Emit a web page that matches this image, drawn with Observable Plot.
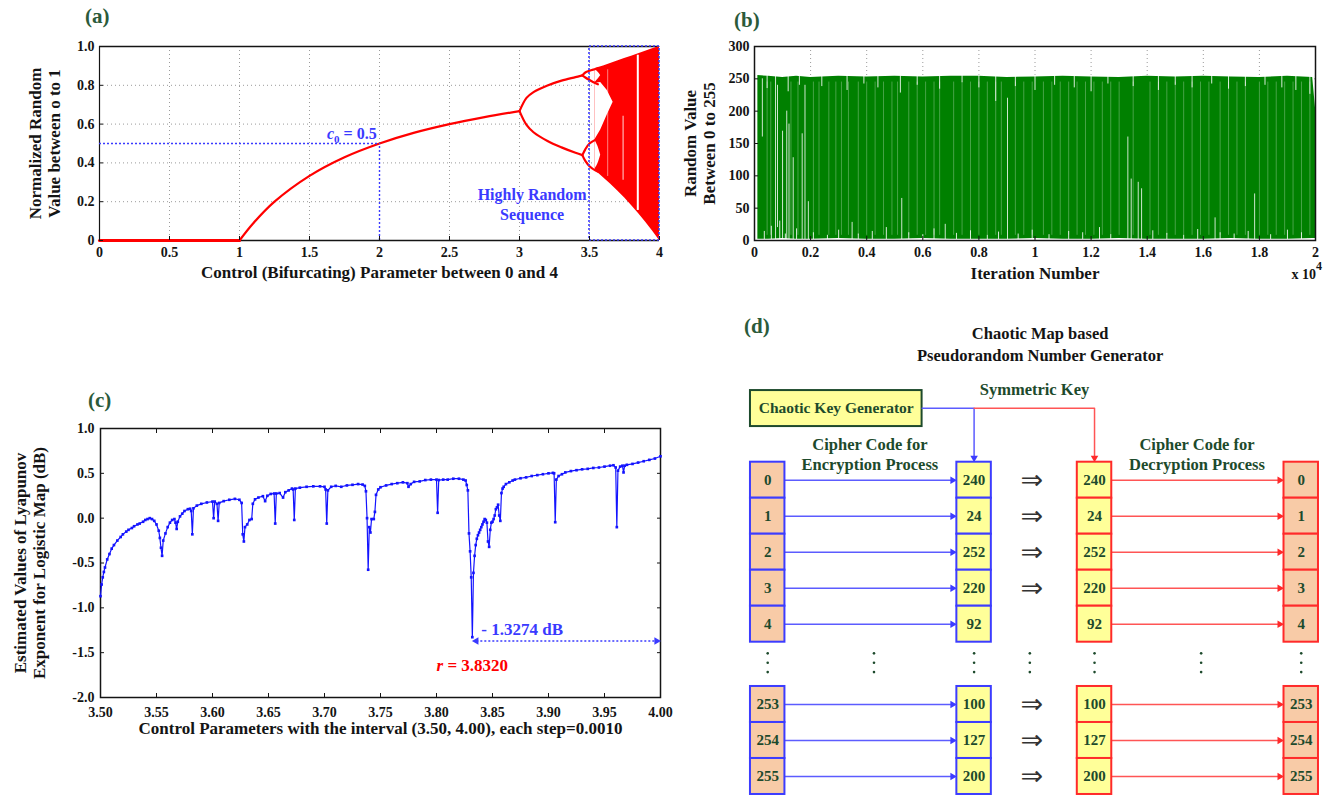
<!DOCTYPE html>
<html>
<head>
<meta charset="utf-8">
<script src="https://cdn.jsdelivr.net/npm/d3@7"></script>
<script src="https://cdn.jsdelivr.net/npm/@observablehq/plot@0.6"></script>
<style>
  html, body { margin: 0; padding: 0; background: #fff; }
  #fig { position: relative; width: 1330px; height: 796px; overflow: hidden; }
  .panel { position: absolute; }
  .tag { position: absolute; font: bold 21px "Liberation Serif", serif; color: #2b5a3a; line-height: 24px; }
</style>
</head>
<body>
<div id="fig"></div>
<script>
// ================= DATA =================
// (a) bifurcation diagram of the logistic map
const aTicksX = [0, 0.5, 1, 1.5, 2, 2.5, 3, 3.5, 4];
const aTicksY = [0, 0.2, 0.4, 0.6, 0.8, 1];
const extinctR = [0, 1];
const extinctX = [0, 0];
const fixedR = [1, 1.1, 1.25, 1.5, 1.75, 2, 2.25, 2.5, 2.75, 3];
const fixedX = [0, 0.09, 0.2, 0.333, 0.429, 0.5, 0.556, 0.6, 0.636, 0.667];
const period2R = [3, 3.05, 3.1, 3.2, 3.3, 3.4, 3.449];
const period2Hi = [0.667, 0.735, 0.765, 0.799, 0.824, 0.842, 0.851];
const period2Lo = [0.667, 0.596, 0.558, 0.513, 0.480, 0.452, 0.44];
const period4R = [3.449, 3.47, 3.5, 3.544, 3.56];
const period4HiHi = [0.851, 0.866, 0.875, 0.884, 0.888];
const period4HiLo = [0.851, 0.84, 0.827, 0.81, 0.805];
const period4LoHi = [0.44, 0.47, 0.50, 0.52, 0.525];
const period4LoLo = [0.44, 0.41, 0.383, 0.36, 0.355];
const chaosR = [3.54, 3.57, 3.6, 3.65, 3.7, 3.75, 3.8, 3.85, 3.9, 3.95, 4];
const chaosHi = [0.886, 0.893, 0.9, 0.913, 0.925, 0.938, 0.95, 0.963, 0.975, 0.988, 1];
const chaosLo = [0.362, 0.343, 0.324, 0.291, 0.257, 0.22, 0.181, 0.139, 0.095, 0.049, 0];
const gapR = [3.54, 3.58, 3.626, 3.669];
const gapLo = [0.52, 0.57, 0.645, 0.713];
const gapHi = [0.81, 0.815, 0.775, 0.713];
const loopR = [3.54, 3.56, 3.58];
const loopUpLo = [0.815, 0.83, 0.85];
const loopUpHi = [0.88, 0.87, 0.85];
const loopLowLo = [0.37, 0.39, 0.44];
const loopLowHi = [0.515, 0.49, 0.44];
const windowR = [3.63, 3.74, 3.845];
const windowLo = [0.33, 0.31, 0.155];
const windowHi = [0.88, 0.64, 0.955];
const windowWidth = [1, 1.2, 2];
const windowAlpha = [0.5, 0.7, 1];
const c0 = 0.5, rAtC0 = 2;
const randomBand = [3.5, 4];

// (b) pseudo-random sequence 0..255 (x in units of 10^4 iterations)
const bTicksX = [0, 0.2, 0.4, 0.6, 0.8, 1, 1.2, 1.4, 1.6, 1.8, 2];
const bTicksY = [0, 50, 100, 150, 200, 250, 300];
const bEnvX = [0.012, 0.05, 0.1, 0.15, 0.2, 0.3, 0.4, 0.5, 0.6, 0.7, 0.8, 0.9, 1.0, 1.1, 1.2, 1.3, 1.4, 1.5, 1.6, 1.7, 1.8, 1.9, 1.99, 2.0];
const bEnvTop = [255, 254, 252, 254, 252, 254, 253, 254, 253, 254, 254, 252, 253, 254, 253, 252, 254, 253, 254, 253, 252, 254, 252, 205];
const bEnvBottom = [2, 2, 3, 2, 2, 3, 2, 2, 3, 2, 2, 2, 3, 2, 2, 3, 2, 2, 2, 3, 2, 2, 3, 3];
const bStreakX = [0.028, 0.075, 0.082, 0.1, 0.115, 0.123, 0.138, 0.17, 0.18, 0.192, 0.348, 0.525, 0.68, 0.902, 1.331, 1.343, 1.368, 1.38, 1.642, 1.783];
const bStreakLo = [160, 0, 20, 0, 0, 0, 0, 0, 0, 0, 0, 0, 0, 0, 0, 0, 0, 0, 0, 0];
const bStreakHi = [250, 254, 240, 169, 200, 180, 128, 165, 240, 60, 28, 65, 25, 220, 160, 95, 90, 80, 35, 72];
const bFaintX = [0.045, 0.058, 0.13, 0.155, 0.21, 0.23, 0.265, 0.29, 0.31, 0.335, 0.37, 0.4, 0.43, 0.46, 0.49, 0.51, 0.55, 0.58, 0.61, 0.64, 0.66, 0.71, 0.74, 0.77, 0.8, 0.83, 0.86, 0.88, 0.93, 0.96, 0.99, 1.03, 1.06, 1.09, 1.12, 1.15, 1.18, 1.21, 1.24, 1.27, 1.3, 1.35, 1.41, 1.44, 1.47, 1.5, 1.53, 1.56, 1.59, 1.62, 1.66, 1.69, 1.72, 1.75, 1.8, 1.83, 1.86, 1.89, 1.92, 1.95, 1.98];
const bLowNotchX = [0.035, 0.06, 0.09, 0.11, 0.15, 0.21, 0.26, 0.3, 0.37, 0.42, 0.47, 0.55, 0.6, 0.64, 0.72, 0.77, 0.83, 0.87, 0.94, 0.99, 1.05, 1.12, 1.17, 1.23, 1.27, 1.42, 1.47, 1.53, 1.58, 1.66, 1.71, 1.76, 1.84, 1.9, 1.95];
const bLowNotchH = [14, 22, 30, 10, 18, 12, 8, 16, 10, 14, 20, 12, 9, 18, 11, 15, 8, 13, 10, 16, 9, 14, 12, 20, 9, 15, 11, 8, 17, 12, 10, 14, 9, 16, 12];
const bHighNotchX = [0.045, 0.12, 0.16, 0.24, 0.33, 0.39, 0.44, 0.52, 0.58, 0.66, 0.74, 0.8, 0.86, 0.93, 1.0, 1.07, 1.14, 1.2, 1.26, 1.35, 1.44, 1.5, 1.56, 1.63, 1.69, 1.75, 1.82, 1.88, 1.93, 1.98];
const bHighNotchL = [235, 230, 240, 238, 232, 242, 236, 228, 240, 234, 244, 236, 215, 238, 232, 240, 236, 230, 242, 238, 232, 240, 236, 242, 234, 238, 240, 236, 232, 226];

// (c) Lyapunov exponent, r in [3.50, 4.00]: [r, value]
const cTicksX = [3.50, 3.55, 3.60, 3.65, 3.70, 3.75, 3.80, 3.85, 3.90, 3.95, 4.00];
const cTicksY = [-2, -1.5, -1, -0.5, 0, 0.5, 1];
const lyapunov = [
 [3.500,-0.87],[3.501,-0.74],[3.502,-0.66],[3.503,-0.60],[3.504,-0.55],[3.506,-0.46],[3.508,-0.40],[3.510,-0.34],
 [3.512,-0.30],[3.515,-0.25],[3.518,-0.21],[3.520,-0.18],[3.523,-0.15],[3.525,-0.13],[3.528,-0.11],[3.530,-0.09],
 [3.533,-0.07],[3.535,-0.06],[3.538,-0.04],[3.540,-0.02],[3.542,-0.01],[3.544,0.00],[3.546,-0.01],[3.548,-0.03],
 [3.550,-0.07],[3.552,-0.14],[3.553,-0.22],[3.554,-0.33],[3.555,-0.42],[3.556,-0.25],[3.558,-0.17],[3.560,-0.10],
 [3.562,-0.05],[3.564,-0.02],[3.566,-0.01],[3.567,-0.05],[3.568,-0.12],[3.569,-0.04],[3.571,0.02],[3.573,0.05],
 [3.575,0.08],[3.578,0.10],[3.580,0.105],[3.581,0.08],[3.582,-0.18],[3.583,0.11],[3.586,0.14],[3.590,0.16],
 [3.595,0.175],[3.600,0.185],[3.601,0.00],[3.602,0.185],[3.604,0.16],[3.605,-0.03],[3.606,0.17],[3.610,0.19],
 [3.615,0.205],[3.620,0.215],[3.624,0.205],[3.626,0.17],[3.627,-0.18],[3.628,-0.26],[3.629,-0.10],[3.631,-0.07],
 [3.633,-0.02],[3.635,-0.01],[3.636,0.16],[3.638,0.21],[3.641,0.23],[3.645,0.245],[3.647,0.19],[3.649,0.25],
 [3.652,0.27],[3.655,0.275],[3.656,-0.06],[3.657,0.275],[3.660,0.28],[3.663,0.23],[3.665,0.29],[3.668,0.31],
 [3.671,0.33],[3.672,0.32],[3.673,-0.02],[3.674,0.33],[3.678,0.34],[3.684,0.35],[3.690,0.355],[3.696,0.355],
 [3.700,0.35],[3.701,0.32],[3.702,-0.06],[3.703,0.31],[3.706,0.35],[3.710,0.36],[3.715,0.35],[3.720,0.365],
 [3.725,0.372],[3.730,0.38],[3.734,0.375],[3.736,0.36],[3.737,0.30],[3.738,0.00],[3.739,-0.575],[3.740,-0.10],
 [3.741,-0.16],[3.742,-0.01],[3.744,-0.01],[3.745,0.07],[3.746,0.26],[3.748,0.32],[3.750,0.345],[3.755,0.365],
 [3.760,0.38],[3.765,0.39],[3.770,0.40],[3.774,0.39],[3.775,0.35],[3.777,0.38],[3.780,0.405],[3.785,0.41],
 [3.790,0.425],[3.795,0.43],[3.800,0.43],[3.801,0.06],[3.802,0.425],[3.806,0.43],[3.810,0.43],[3.815,0.44],
 [3.820,0.44],[3.824,0.43],[3.826,0.42],[3.827,0.37],[3.828,0.31],[3.829,-0.17],[3.830,-0.37],[3.831,-0.66],
 [3.832,-1.3274],[3.833,-0.61],[3.834,-0.42],[3.835,-0.30],[3.836,-0.23],[3.837,-0.19],[3.838,-0.16],[3.839,-0.13],
 [3.840,-0.10],[3.841,-0.07],[3.842,-0.04],[3.843,-0.01],[3.844,-0.02],[3.845,-0.05],[3.846,-0.26],[3.847,-0.32],
 [3.848,-0.13],[3.849,-0.05],[3.850,-0.04],[3.851,-0.01],[3.852,0.03],[3.853,0.10],[3.854,0.12],[3.855,0.15],
 [3.856,0.03],[3.857,-0.03],[3.858,0.28],[3.859,0.33],[3.860,0.35],[3.862,0.38],[3.865,0.40],[3.868,0.42],
 [3.870,0.43],[3.875,0.445],[3.880,0.455],[3.885,0.47],[3.890,0.48],[3.895,0.49],[3.900,0.50],[3.904,0.505],
 [3.905,0.50],[3.906,-0.045],[3.907,0.43],[3.909,0.47],[3.912,0.49],[3.915,0.51],[3.920,0.525],[3.925,0.535],
 [3.930,0.545],[3.935,0.55],[3.940,0.56],[3.945,0.565],[3.950,0.575],[3.955,0.585],[3.958,0.59],[3.960,0.565],
 [3.961,-0.10],[3.962,0.53],[3.964,0.575],[3.966,0.585],[3.967,0.51],[3.968,0.585],[3.970,0.595],[3.975,0.605],
 [3.980,0.62],[3.985,0.635],[3.990,0.65],[3.995,0.665],[4.000,0.69]
];
const rMin = 3.8320, lyaMin = -1.3274, rMax = 4.0, arrowLevel = -1.37;

// (d) symmetric key substitution table
const plainBytes = [0, 1, 2, 3, 4, 253, 254, 255];
const cipherBytes = [240, 24, 252, 220, 92, 100, 127, 200];
const showImplies = [true, true, true, true, false, true, true, true];

// ================= LAYOUT / STYLE =================
const FONT = "Liberation Serif";
const INK = "#141414", GRID = "#9a9a9a";
const RED = "#ff0000", NOTE_BLUE = "#3a3aff", GREEN = "#008000", LINE_BLUE = "#1414ff";
const DKG = "#1d4a2c", PEACH = "#f8cba7", YELLOW = "#ffff99";
const BOX_BLUE = "#3c3cff", BOX_RED = "#ff2a2a", ARROW_BLUE = "#5c5cff", ARROW_RED = "#ff5555";
const fig = document.getElementById("fig");
const base = {fontFamily: FONT, fontWeight: "bold", fontSize: "14px", color: INK, background: "transparent", overflow: "visible"};

function place(el, left, top) {
  const d = document.createElement("div");
  d.className = "panel"; d.style.left = left + "px"; d.style.top = top + "px";
  d.appendChild(el); fig.appendChild(d); return el;
}
function tag(txt, left, top) {
  const d = document.createElement("div");
  d.className = "tag"; d.textContent = txt; d.style.left = left + "px"; d.style.top = top + "px";
  fig.appendChild(d);
}
function rich(svg, plain, html) {
  svg.querySelectorAll("text").forEach(t => { if (t.textContent === plain) t.innerHTML = html; });
}
const series = (xs, ys, name) => xs.map((x, i) => ({name, x, y: ys[i]}));
const band = (xs, los, his) => xs.map((x, i) => ({x, lo: los[i], hi: his[i]}));

// ================= (a) =================
const chaos = band(chaosR, chaosLo, chaosHi);
const gap = band(gapR, gapLo, gapHi);
const loopUp = band(loopR, loopUpLo, loopUpHi);
const loopLow = band(loopR, loopLowLo, loopLowHi);
const windows = windowR.map((x, i) => ({x, lo: windowLo[i], hi: windowHi[i], w: windowWidth[i], a: windowAlpha[i]}));
const branches = [
  ...series(fixedR, fixedX, "fixed"),
  ...series(period2R, period2Hi, "p2hi"), ...series(period2R, period2Lo, "p2lo"),
  ...series(period4R, period4HiHi, "p4a"), ...series(period4R, period4HiLo, "p4b"),
  ...series(period4R, period4LoHi, "p4c"), ...series(period4R, period4LoLo, "p4d")
];
const fmtA = d => d === 1 ? "1.0" : String(+d.toFixed(1));
const plotA = Plot.plot({
  width: 680, height: 290, marginLeft: 99, marginRight: 21, marginTop: 16, marginBottom: 80,
  x: {domain: [0, 4], label: null}, y: {domain: [0, 1], label: null},
  style: base,
  marks: [
    Plot.gridX(aTicksX, {stroke: GRID, strokeOpacity: 1, strokeDasharray: "1,3"}),
    Plot.gridY(aTicksY, {stroke: GRID, strokeOpacity: 1, strokeDasharray: "1,3"}),
    Plot.ruleY([1], {stroke: INK, strokeWidth: 1.6}),
    Plot.ruleY([0], {stroke: INK, strokeWidth: 1.6}),
    Plot.ruleX([0], {stroke: INK, strokeWidth: 1.2}),
    Plot.areaY(chaos, {x: "x", y1: "lo", y2: "hi", fill: RED}),
    Plot.areaY(gap, {x: "x", y1: "lo", y2: "hi", fill: "white"}),
    Plot.areaY(loopUp, {x: "x", y1: "lo", y2: "hi", fill: "white", curve: "basis"}),
    Plot.areaY(loopLow, {x: "x", y1: "lo", y2: "hi", fill: "white", curve: "basis"}),
    Plot.ruleX(windows, {x: "x", y1: "lo", y2: "hi", stroke: "white", strokeWidth: "w", strokeOpacity: "a"}),
    Plot.line(series(extinctR, extinctX, "zero"), {x: "x", y: "y", stroke: RED, strokeWidth: 3}),
    Plot.line(branches, {x: "x", y: "y", z: "name", stroke: RED, strokeWidth: 2.2, curve: "catmull-rom"}),
    Plot.ruleY([c0], {x1: 0, x2: rAtC0, stroke: NOTE_BLUE, strokeWidth: 1.4, strokeDasharray: "2,2"}),
    Plot.ruleX([rAtC0], {y1: 0, y2: c0, stroke: NOTE_BLUE, strokeWidth: 1.4, strokeDasharray: "2,2"}),
    Plot.rect([randomBand], {x1: d => d[0], x2: d => d[1], y1: 0, y2: 1, fill: "none", stroke: NOTE_BLUE, strokeWidth: 1.6, strokeDasharray: "2,2"}),
    Plot.text(["c0 = 0.5"], {x: rAtC0 - 0.02, y: 0.55, textAnchor: "end", fill: NOTE_BLUE, fontSize: 16}),
    Plot.text(["Highly Random\nSequence"], {x: 3.09, y: 0.19, fill: NOTE_BLUE, fontSize: 16, lineHeight: 1.25}),
    Plot.axisX(aTicksX, {anchor: "bottom", tickSize: -4, tickPadding: 11, tickFormat: d => String(d), label: null}),
    Plot.axisY(aTicksY, {anchor: "left", tickSize: -4, tickPadding: 9, tickFormat: fmtA, label: null}),
    Plot.text(["Control (Bifurcating) Parameter between 0 and 4"], {frameAnchor: "bottom", dy: 37, fontSize: 17}),
    Plot.text(["Normalized Random\nValue between o to 1"], {frameAnchor: "left", textAnchor: "middle", rotate: -90, dx: -55, fontSize: 17, lineHeight: 1.12})
  ]
});
rich(plotA, "c0 = 0.5", '<tspan font-style="italic">c</tspan><tspan font-size="11" dy="4">0</tspan><tspan dy="-4"> = 0.5</tspan>');
place(plotA, 0, 30);
tag("(a)", 85, 4);

// ================= (b) =================
const env = band(bEnvX, bEnvBottom, bEnvTop);
const streaks = band(bStreakX, bStreakLo, bStreakHi);
const faint = bFaintX.map(x => ({x, lo: 8, hi: 245}));
const lowNotch = bLowNotchX.map((x, i) => ({x, lo: 0, hi: bLowNotchH[i]}));
const highNotch = bHighNotchX.map((x, i) => ({x, lo: bHighNotchL[i], hi: 256}));
const plotB = Plot.plot({
  width: 650, height: 290, marginLeft: 74, marginRight: 15, marginTop: 16, marginBottom: 80,
  x: {domain: [0, 2], label: null}, y: {domain: [0, 300], label: null},
  style: base,
  marks: [
    Plot.gridX(bTicksX, {stroke: GRID, strokeOpacity: 1, strokeDasharray: "1,3"}),
    Plot.gridY(bTicksY, {stroke: GRID, strokeOpacity: 1, strokeDasharray: "1,3"}),
    Plot.areaY(env, {x: "x", y1: "lo", y2: "hi", fill: GREEN}),
    Plot.ruleX(faint, {x: "x", y1: "lo", y2: "hi", stroke: "white", strokeOpacity: 0.28, strokeWidth: 1}),
    Plot.ruleX(streaks, {x: "x", y1: "lo", y2: "hi", stroke: "white", strokeOpacity: 0.8, strokeWidth: 1}),
    Plot.ruleX(lowNotch, {x: "x", y1: "lo", y2: "hi", stroke: "white", strokeOpacity: 0.85, strokeWidth: 1}),
    Plot.ruleX(highNotch, {x: "x", y1: "lo", y2: "hi", stroke: "white", strokeOpacity: 0.85, strokeWidth: 1}),
    Plot.frame({stroke: INK, strokeWidth: 1.5}),
    Plot.axisX(bTicksX, {anchor: "bottom", tickSize: -4, tickPadding: 11, tickFormat: d => String(+d.toFixed(1)), label: null}),
    Plot.axisY(bTicksY, {anchor: "left", tickSize: -4, tickPadding: 9, label: null}),
    Plot.text(["Iteration Number"], {frameAnchor: "bottom", dy: 38, fontSize: 17}),
    Plot.text(["x 10^4"], {frameAnchor: "bottom-right", textAnchor: "start", dx: -24, dy: 38, fontSize: 14}),
    Plot.text(["Random Value\nBetween 0 to 255"], {frameAnchor: "left", textAnchor: "middle", rotate: -90, dx: -55, fontSize: 17, lineHeight: 1.12})
  ]
});
rich(plotB, "x 10^4", 'x 10<tspan dy="-9" font-size="12">4</tspan>');
place(plotB, 680, 30);
tag("(b)", 734, 8);

// ================= (c) =================
const lya = lyapunov.map(([r, v]) => ({r, v}));
const plotC = Plot.plot({
  width: 680, height: 380, marginLeft: 100, marginRight: 20, marginTop: 48, marginBottom: 63,
  x: {domain: [3.5, 4], label: null}, y: {domain: [-2, 1], label: null},
  style: base,
  marks: [
    Plot.frame({stroke: INK, strokeWidth: 1.5}),
    Plot.line(lya, {x: "r", y: "v", stroke: LINE_BLUE, strokeWidth: 1.2}),
    Plot.dot(lya, {x: "r", y: "v", symbol: "square", r: 1.5, fill: LINE_BLUE}),
    Plot.ruleY([arrowLevel], {x1: rMin + 0.004, x2: rMax - 0.004, stroke: NOTE_BLUE, strokeWidth: 1.6, strokeDasharray: "2,2"}),
    Plot.dot([{x: rMin + 0.0035, rot: -90}, {x: rMax - 0.0035, rot: 90}], {x: "x", y: arrowLevel, rotate: "rot", symbol: "triangle", r: 2.8, fill: NOTE_BLUE}),
    Plot.text([`- ${Math.abs(lyaMin).toFixed(4)} dB`], {x: 3.840, y: -1.24, textAnchor: "start", fill: NOTE_BLUE, fontSize: 17}),
    Plot.text([`r = ${rMin.toFixed(4)}`], {x: rMin, y: -1.643, fill: RED, fontSize: 17}),
    Plot.axisX(cTicksX, {anchor: "bottom", tickSize: -4, tickPadding: 14, tickFormat: d => d.toFixed(2), label: null}),
    Plot.axisX(cTicksX, {anchor: "top", tickSize: -4, tickFormat: () => "", label: null}),
    Plot.axisY(cTicksY, {anchor: "left", tickSize: -4, tickPadding: 10, tickFormat: d => d.toFixed(1), label: null}),
    Plot.axisY(cTicksY, {anchor: "right", tickSize: -4, tickFormat: () => "", label: null}),
    Plot.text(["Control Parameters with the interval (3.50, 4.00), each step=0.0010"], {frameAnchor: "bottom", dy: 36, fontSize: 17}),
    Plot.text(["Estimated Values of Lyapunov\nExponent for Logistic Map (dB)"], {frameAnchor: "left", textAnchor: "middle", rotate: -90, dx: -71, fontSize: 17, lineHeight: 1.12})
  ]
});
rich(plotC, `r = ${rMin.toFixed(4)}`, `<tspan font-style="italic">r</tspan> = ${rMin.toFixed(4)}`);
place(plotC, 0, 380);
tag("(c)", 88, 388);

// ================= (d) =================
// layout slots (column units / row units of the diagram)
const col = {plain: 0, enc: 2, dec: 3.167, out: 5.17};
const rowSlot = [0, 1, 2, 3, 4, 6.23, 7.23, 8.23];
const ellipsisCols = [0, 1.03, 2, 2.54, 3.167, 4.2, 5.17];
const ellipsisRows = [4.81, 5.07, 5.33];
const hw = 0.167, hh = 0.5;
const rows = plainBytes.map((p, i) => ({p, c: cipherBytes[i], s: rowSlot[i], imp: showImplies[i]}));
const cells = rows.flatMap(r => [
  {x: col.plain, s: r.s, label: r.p, fill: PEACH, stroke: BOX_BLUE},
  {x: col.enc, s: r.s, label: r.c, fill: YELLOW, stroke: BOX_BLUE},
  {x: col.dec, s: r.s, label: r.c, fill: YELLOW, stroke: BOX_RED},
  {x: col.out, s: r.s, label: r.p, fill: PEACH, stroke: BOX_RED}
]);
const ellipsis = ellipsisCols.flatMap(x => ellipsisRows.map(s => ({x, s})));
const keyBox = {x1: -0.167, x2: 1.496, y1: -2.49, y2: -1.49};
const keyBlue = [{x: keyBox.x2, s: -2}, {x: col.enc, s: -2}, {x: col.enc, s: -0.62}];
const keyRed = [{x: col.enc, s: -2}, {x: col.dec, s: -2}, {x: col.dec, s: -0.62}];
const plotD = Plot.plot({
  width: 600, height: 496, margin: 0,
  x: {domain: [0, 1], range: [37.2, 140.4], axis: null},
  y: {domain: [0, 1], range: [179.7, 215.7], axis: null},
  color: {type: "identity"},
  style: {...base, fontSize: "15px"},
  marks: [
    Plot.text(["Chaotic Map based\nPseudorandom Number Generator"], {x: 2.64, y: -3.81, fill: INK, fontSize: 16.5, lineHeight: 1.3}),
    Plot.text(["Symmetric Key"], {x: 2.585, y: -2.52, fill: DKG, fontSize: 16.5}),
    Plot.rect([keyBox], {x1: "x1", x2: "x2", y1: "y1", y2: "y2", fill: YELLOW, stroke: DKG, strokeWidth: 2}),
    Plot.text(["Chaotic Key Generator"], {x: (keyBox.x1 + keyBox.x2) / 2, y: -2, fill: DKG, fontSize: 15.5}),
    Plot.line(keyBlue, {x: "x", y: "s", stroke: ARROW_BLUE, strokeWidth: 1.5}),
    Plot.line(keyRed, {x: "x", y: "s", stroke: ARROW_RED, strokeWidth: 1.5}),
    Plot.dot([{x: col.enc, f: BOX_BLUE}, {x: col.dec, f: BOX_RED}], {x: "x", y: -0.62, fill: "f", symbol: "triangle", rotate: 180, r: 2.8}),
    Plot.text(["Cipher Code for\nEncryption Process"], {x: 0.99, y: -0.745, fill: DKG, fontSize: 16.5, lineHeight: 1.2}),
    Plot.text(["Cipher Code for\nDecryption Process"], {x: 4.16, y: -0.745, fill: DKG, fontSize: 16.5, lineHeight: 1.2}),
    Plot.link(rows, {x1: col.plain + hw, x2: col.enc - hw - 0.04, y1: "s", y2: "s", stroke: ARROW_BLUE, strokeWidth: 1.4}),
    Plot.dot(rows, {x: col.enc - hw - 0.042, y: "s", symbol: "triangle", rotate: 90, r: 2.8, fill: BOX_BLUE}),
    Plot.link(rows, {x1: col.dec + hw, x2: col.out - hw - 0.04, y1: "s", y2: "s", stroke: ARROW_RED, strokeWidth: 1.4}),
    Plot.dot(rows, {x: col.out - hw - 0.042, y: "s", symbol: "triangle", rotate: 90, r: 2.8, fill: BOX_RED}),
    Plot.rect(cells, {x1: d => d.x - hw, x2: d => d.x + hw, y1: d => d.s - hh, y2: d => d.s + hh, fill: "fill", stroke: "stroke", strokeWidth: 2}),
    Plot.text(cells, {x: "x", y: "s", text: "label", fill: DKG, fontSize: 15}),
    Plot.text(rows.filter(r => r.imp), {x: 2.56, y: "s", text: () => "\u21D2", fill: "#333", fontFamily: "DejaVu Sans", fontWeight: "normal", fontSize: 27}),
    Plot.dot(ellipsis, {x: "x", y: "s", r: 1.3, fill: DKG})
  ]
});
place(plotD, 730, 300);
tag("(d)", 744, 314);
</script>
</body>
</html>
